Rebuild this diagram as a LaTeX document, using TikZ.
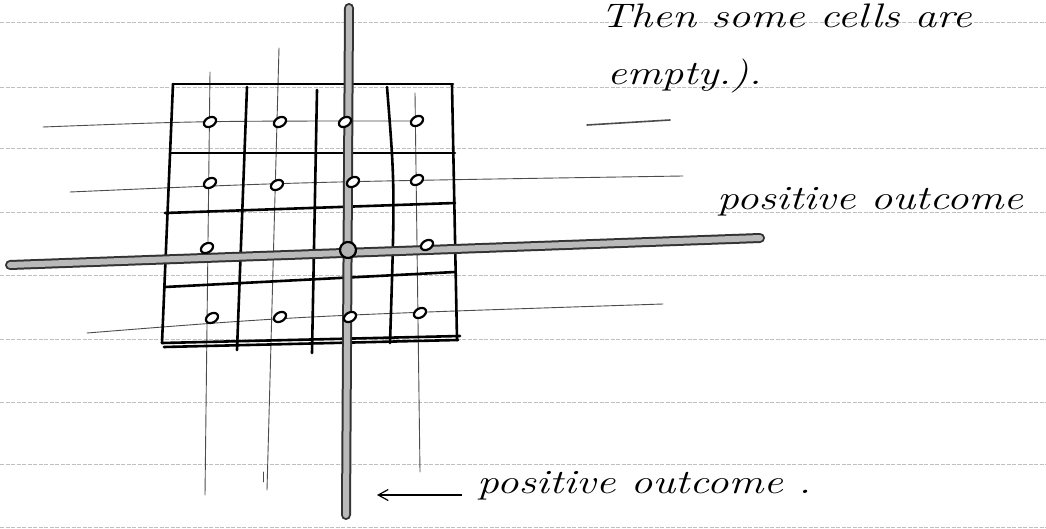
\documentclass[tikz,border=0pt]{standalone}
\usepackage{graphicx}
\usetikzlibrary{arrows.meta, shapes.geometric}

% handwriting is wide and low
\newcommand{\handtext}[1]{\scalebox{1.28}[1]{\itshape #1}}

\begin{document}
\begin{tikzpicture}[
    x=1pt, y=-1pt,
    >={Straight Barb[length=10pt, width=11pt]},
    ruled/.style={draw=gray!50, line width=0.7pt, dash pattern=on 4pt off 1.5pt},
    gridline/.style={draw=black, line width=2.6pt, line cap=round, line join=round},
    guide/.style={draw=black!70, line width=0.9pt, line cap=round},
    axisline/.style={draw=black!80, line width=10pt, line cap=round},
    axisfill/.style={draw=gray!55, line width=6pt, line cap=round},
    dotmark/.style={ellipse, draw=black, line width=2.2pt, fill=white,
        minimum width=13pt, minimum height=9pt, inner sep=0pt, rotate=30},
    hand/.style={anchor=base west, inner sep=0pt, font=\fontsize{34}{40}\selectfont}
]

\useasboundingbox[fill=white] (0,0) rectangle (1046,529);

% ruled paper
\foreach \ry in {22, 87, 148, 212, 275, 339, 402, 464, 527}
    \draw[ruled] (0,\ry) -- (1046,\ry);

% thin guide lines through the dots
\draw[guide] (210,72) -- (205,495);
\draw[guide] (279,48) -- (267,490);
\draw[guide] (415,93) -- (420,472);
\draw[guide] (263,472) -- (263,482);
\draw[guide] (43,127) .. controls (200,121) .. (417,121);
\draw[guide, line width=1.6pt] (587,125) -- (670,120);
\draw[guide] (70,192) .. controls (300,182) .. (683,176);
\draw[guide] (87,333) .. controls (300,316) .. (663,304);

% the grid
\draw[gridline] (173,84) -- (453,84);
\draw[gridline] (170,153) -- (455,153);
\draw[gridline] (165,213) -- (455,203);
\draw[gridline] (165,287) -- (455,272);
\draw[gridline] (162,343) -- (460,336);
\draw[gridline] (164,347) -- (458,340);
\draw[gridline] (173,84) -- (162,343);
\draw[gridline] (247,87) -- (237,350);
\draw[gridline] (317,90) -- (312,353);
\draw[gridline] (387,87) .. controls (395,187) .. (390,343);
\draw[gridline] (452,85) -- (457,340);

% thick axes
\coordinate (haxL) at (10,265);
\coordinate (haxR) at (760,238);
\coordinate (vaxT) at (349,8);
\coordinate (vaxB) at (346,515);
\draw[axisline] (haxL) -- (haxR);
\draw[axisline] (vaxT) -- (vaxB);
\draw[axisfill] (haxL) -- (haxR);
\draw[axisfill] (vaxT) -- (vaxB);

% dots
\foreach \dx/\dy [count=\di] in {210/122, 280/122, 345/122, 417/121,
        210/183, 277/185, 353/182, 417/180,
        207/248, 427/245,
        212/318, 280/317, 350/317, 420/313}
    \node[dotmark] (dot\di) at (\dx,\dy) {};
\node[dotmark, fill=gray!60, minimum width=16pt, minimum height=16pt] (origin) at (348,250) {};

% handwriting
\node[hand] (topline) at (600,28) {\handtext{Then some cells are}};
\node[hand] (empty) at (607,85) {\handtext{empty.).}};
\node[hand] (poshoriz) at (717,210) {\handtext{positive outcome}};
\node[hand] (posvert) at (477,493) {\handtext{positive outcome~.}};
\coordinate (arrowend) at (377,495);
\draw[->, line width=1.2pt] ([xshift=-15pt, yshift=-2pt]posvert.base west) -- (arrowend);

\end{tikzpicture}
\end{document}
